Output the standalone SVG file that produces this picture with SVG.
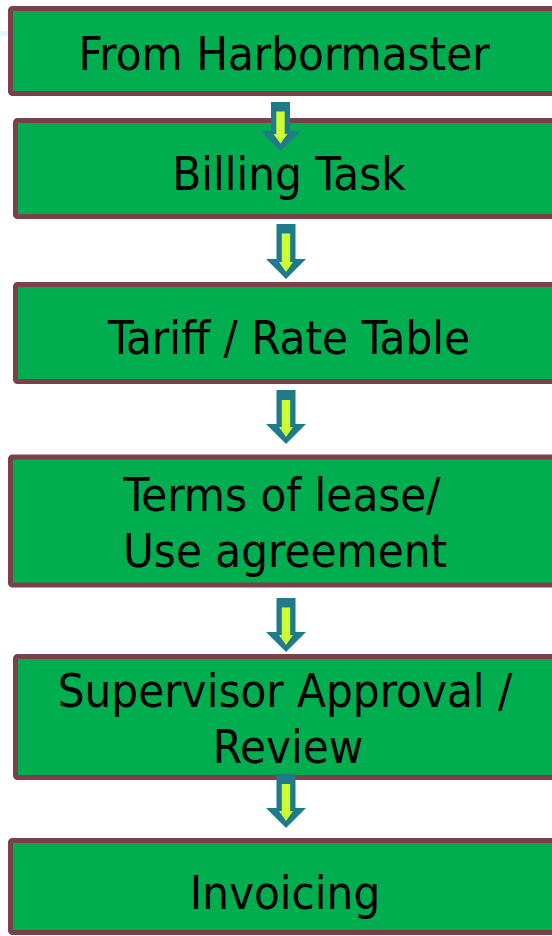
<svg xmlns="http://www.w3.org/2000/svg" width="552" height="936" viewBox="0 0 552 936">
<style>
.box{fill:#00AE50;stroke:#7D3F4B;stroke-width:5}
.lbl{font-family:"DejaVu Sans Condensed","DejaVu Sans","Liberation Sans",sans-serif;font-stretch:condensed;font-size:47px;fill:#000;text-anchor:middle}
.ao{fill:#1F7A8C}
.ai{fill:#CCFF33}
</style>
<rect x="0" y="31" width="9" height="5" fill="#E3F4FA"/>
<g id="n1"><rect class="box" x="10.5" y="8.5" width="560" height="85" rx="2"/><text class="lbl" x="284" y="70">From Harbormaster</text></g>
<g id="n2"><rect class="box" x="15.5" y="120.5" width="560" height="96" rx="2"/><text class="lbl" x="289" y="190">Billing Task</text></g>
<g id="n3"><rect class="box" x="15.5" y="284.5" width="560" height="97" rx="2"/><text class="lbl" x="289" y="354">Tariff / Rate Table</text></g>
<g id="n4"><rect class="box" x="10.5" y="457" width="560" height="128" rx="2"/><text class="lbl" x="282" y="511">Terms of lease/</text><text class="lbl" x="285" y="567">Use agreement</text></g>
<g id="n5"><rect class="box" x="15.5" y="656.5" width="560" height="121" rx="2"/><text class="lbl" x="285" y="707">Supervisor Approval /</text><text class="lbl" x="288" y="763">Review</text></g>
<g id="n6"><rect class="box" x="10.5" y="840.5" width="560" height="92" rx="2"/><text class="lbl" x="285" y="909">Invoicing</text></g>
<g id="connectors">
<path class="ao" d="M271 102H290V131H300.5L280.5 151L260.5 131H271Z"/>
<path class="ai" d="M276.3 111.5H284.7V134H287.5L280.5 143.5L273.5 134H276.3Z"/>
<path class="ao" d="M276.5 224H295.5V259H306L286 279L266 259H276.5Z"/>
<path class="ai" d="M281.8 233.5H290.2V262H293L286 272L279 262H281.8Z"/>
<path class="ao" d="M276.5 390H295.5V424H306L286 444L266 424H276.5Z"/>
<path class="ai" d="M281.8 400H290.2V427H293L286 437L279 427H281.8Z"/>
<path class="ao" d="M276.5 598H295.5V632H306L286 652L266 632H276.5Z"/>
<path class="ai" d="M281.8 607.5H290.2V635H293L286 645L279 635H281.8Z"/>
<path class="ao" d="M276.5 774H295.5V808H306L286 828L266 808H276.5Z"/>
<path class="ai" d="M281.8 784H290.2V811H293L286 821L279 811H281.8Z"/>
</g>
</svg>
